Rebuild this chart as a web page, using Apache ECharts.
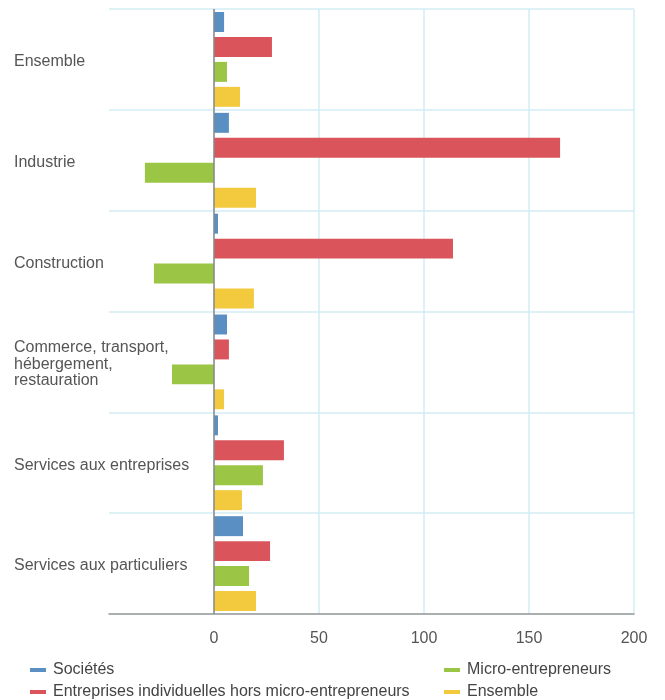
<!DOCTYPE html>
<html><head><meta charset="utf-8">
<script src="https://cdn.jsdelivr.net/npm/echarts@6/dist/echarts.min.js"></script>
<style>html,body{margin:0;padding:0;background:#fff}#c{width:665px;height:700px}</style>
</head><body><div id="c"></div>
<script>
const categories = ["Ensemble","Industrie","Construction","Commerce, transport,\nhébergement,\nrestauration","Services aux entreprises","Services aux particuliers"];
const seriesNames = ["Sociétés","Entreprises individuelles hors micro-entrepreneurs","Micro-entrepreneurs","Ensemble"];
const societes = [4.8, 7.1, 1.9, 6.2, 1.9, 13.8];
const entreprisesIndiv = [27.6, 164.8, 113.8, 7.1, 33.3, 26.7];
const microEntrepreneurs = [6.2, -32.9, -28.6, -20.0, 23.3, 16.7];
const ensemble = [12.4, 20.0, 19.0, 4.8, 13.3, 20.0];
const xTicks = [-50, 0, 50, 100, 150, 200];
const colors = ["#5a8fc3","#d9555b","#9bc545","#f3c93e"];
const values = [societes, entreprisesIndiv, microEntrepreneurs, ensemble];

const chart = echarts.init(document.getElementById('c'), null, {renderer:'canvas'});
const font = '"Liberation Sans", Arial, sans-serif';
const series = seriesNames.map((n,i)=>({
  name:n, type:'bar', data:values[i], barCategoryGap:'6%', barGap:'25%',
  itemStyle:{color:colors[i]}, animation:false,
  markLine: i===0 ? {silent:true, symbol:'none', label:{show:false},
    lineStyle:{color:'#8a8a8a', width:1.5, type:'solid'}, data:[{xAxis:0}]} : undefined
}));
const legendCommon = {orient:'vertical', top:662, height:60, padding:0, icon:'rect', itemWidth:16, itemHeight:4, itemGap:6,
  textStyle:{color:'#444', fontSize:16, fontFamily:font, padding:[0,0,0,2]}};
chart.setOption({
  animation:false,
  textStyle:{fontFamily:font},
  grid:{left:109, right:31, top:9, bottom:86},
  xAxis:{type:'value', min:xTicks[0], max:xTicks[xTicks.length-1], interval:50,
    axisLine:{show:true, onZero:false, lineStyle:{color:'#999', width:1.5}},
    axisTick:{show:false},
    axisLabel:{color:'#555', fontSize:16, margin:17, fontFamily:font,
      formatter:v=> v<0 ? '' : String(v)},
    splitLine:{show:true, showMinLine:false, lineStyle:{color:'#d2ecf4', width:1.5}}
  },
  yAxis:{type:'category', data:categories, inverse:true,
    axisLine:{show:false}, axisTick:{show:false},
    axisLabel:{align:'left', margin:95,
      formatter:v=> '{p| }\n' + v.split('\n').map(s=>'{a|'+s+'}').join('\n'),
      rich:{
        p:{fontSize:1, lineHeight:5, height:5},
        a:{color:'#555', fontSize:16, lineHeight:16.5, fontFamily:font, align:'left'}
      }},
    splitLine:{show:true, lineStyle:{color:'#d2ecf4', width:1.5}}
  },
  legend:[
    Object.assign({data:[seriesNames[0],seriesNames[1]], left:30}, legendCommon),
    Object.assign({data:[seriesNames[2],seriesNames[3]], left:444}, legendCommon)
  ],
  series:series
});
</script></body></html>
